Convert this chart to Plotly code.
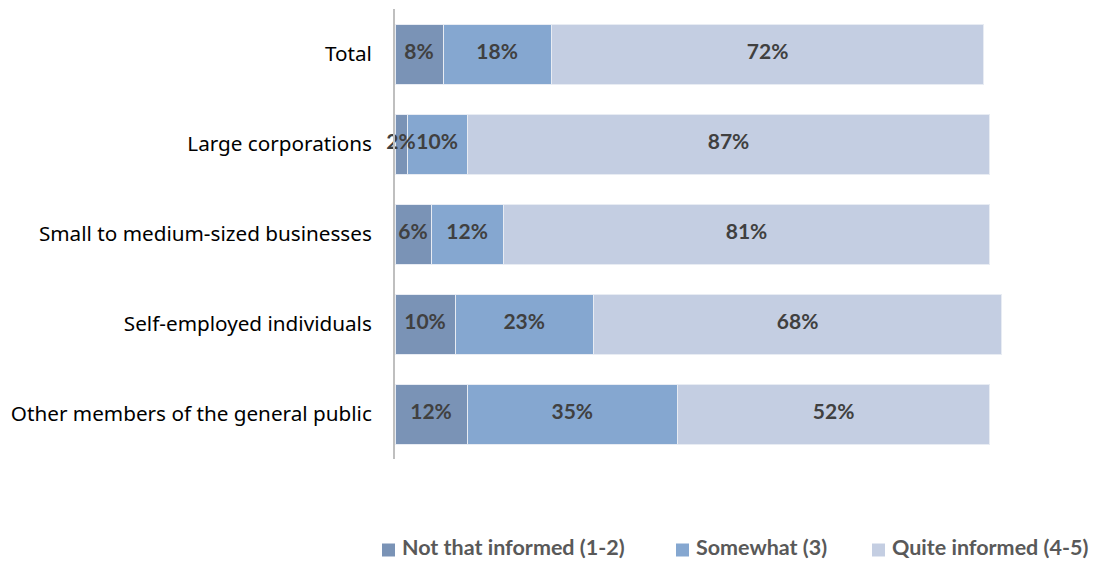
import plotly.graph_objects as go

categories = [
    "Total",
    "Large corporations",
    "Small to medium-sized businesses",
    "Self-employed individuals",
    "Other members of the general public",
]
not_informed = [8, 2, 6, 10, 12]
somewhat = [18, 10, 12, 23, 35]
quite_informed = [72, 87, 81, 68, 52]

series_names = ["Not that informed (1-2)", "Somewhat (3)", "Quite informed (4-5)"]
series_values = [not_informed, somewhat, quite_informed]
series_colors = ["#7a93b6", "#85a7d0", "#c4cee2"]

W, H = 1114, 561
M_L, M_R, M_T, M_B = 395, 58, 9, 102
PLOT_W = W - M_L - M_R
PLOT_H = H - M_T - M_B


def px_to_paper(px, py):
    return (px - M_L) / PLOT_W, (H - M_B - py) / PLOT_H


fig = go.Figure()
for name, vals, color in zip(series_names, series_values, series_colors):
    fig.add_trace(go.Bar(
        y=categories,
        x=vals,
        name=name,
        orientation="h",
        marker=dict(color=color, line=dict(color="#e8ecf3", width=1)),
        textposition="none",
        showlegend=False,
    ))

# value labels at the centre of each segment, drawn above all bars
lab_x, lab_y, lab_t = [], [], []
for i, cat in enumerate(categories):
    start = 0
    for vals in series_values:
        lab_x.append(start + vals[i] / 2)
        lab_y.append(cat)
        lab_t.append(f"{vals[i]}%")
        start += vals[i]

fig.add_trace(go.Scatter(
    x=lab_x,
    y=lab_y,
    text=lab_t,
    mode="text",
    textposition="middle center",
    textfont=dict(family="Lato", size=21, color="#404040", weight="bold"),
    showlegend=False,
    hoverinfo="skip",
    cliponaxis=False,
))

# legend row along the bottom: square swatch followed by its label
legend_square_x = [382, 676, 872]
legend_text_x = [401, 695, 891]
sq = 13
legend_cy = 550
for name, color, sx, tx in zip(series_names, series_colors, legend_square_x, legend_text_x):
    x0, y0 = px_to_paper(sx, legend_cy + sq / 2)
    x1, y1 = px_to_paper(sx + sq, legend_cy - sq / 2)
    fig.add_shape(type="rect", xref="paper", yref="paper",
                  x0=x0, x1=x1, y0=y0, y1=y1,
                  fillcolor=color, line=dict(width=0))
    ax, ay = px_to_paper(tx, legend_cy - 3.5)
    fig.add_annotation(xref="paper", yref="paper", x=ax, y=ay,
                       xanchor="left", yanchor="middle", showarrow=False,
                       text=name, borderpad=0,
                       font=dict(family="Lato", size=21.5, color="#595959", weight="bold"))

fig.update_layout(
    barmode="stack",
    bargap=1 / 3,
    width=W,
    height=H,
    margin=dict(l=M_L, r=M_R, t=M_T, b=M_B, autoexpand=False),
    paper_bgcolor="white",
    plot_bgcolor="white",
    font=dict(family="Noto Sans", color="#000000"),
    xaxis=dict(range=[0, 110], visible=False, fixedrange=True),
    yaxis=dict(
        autorange="reversed",
        showline=True,
        linecolor="#bfbfbf",
        linewidth=2,
        ticks="",
        ticklabelstandoff=17,
        tickfont=dict(family="Noto Sans", size=20.7, color="#000000"),
        showgrid=False,
    ),
    showlegend=False,
)

fig.write_html("out.html")
